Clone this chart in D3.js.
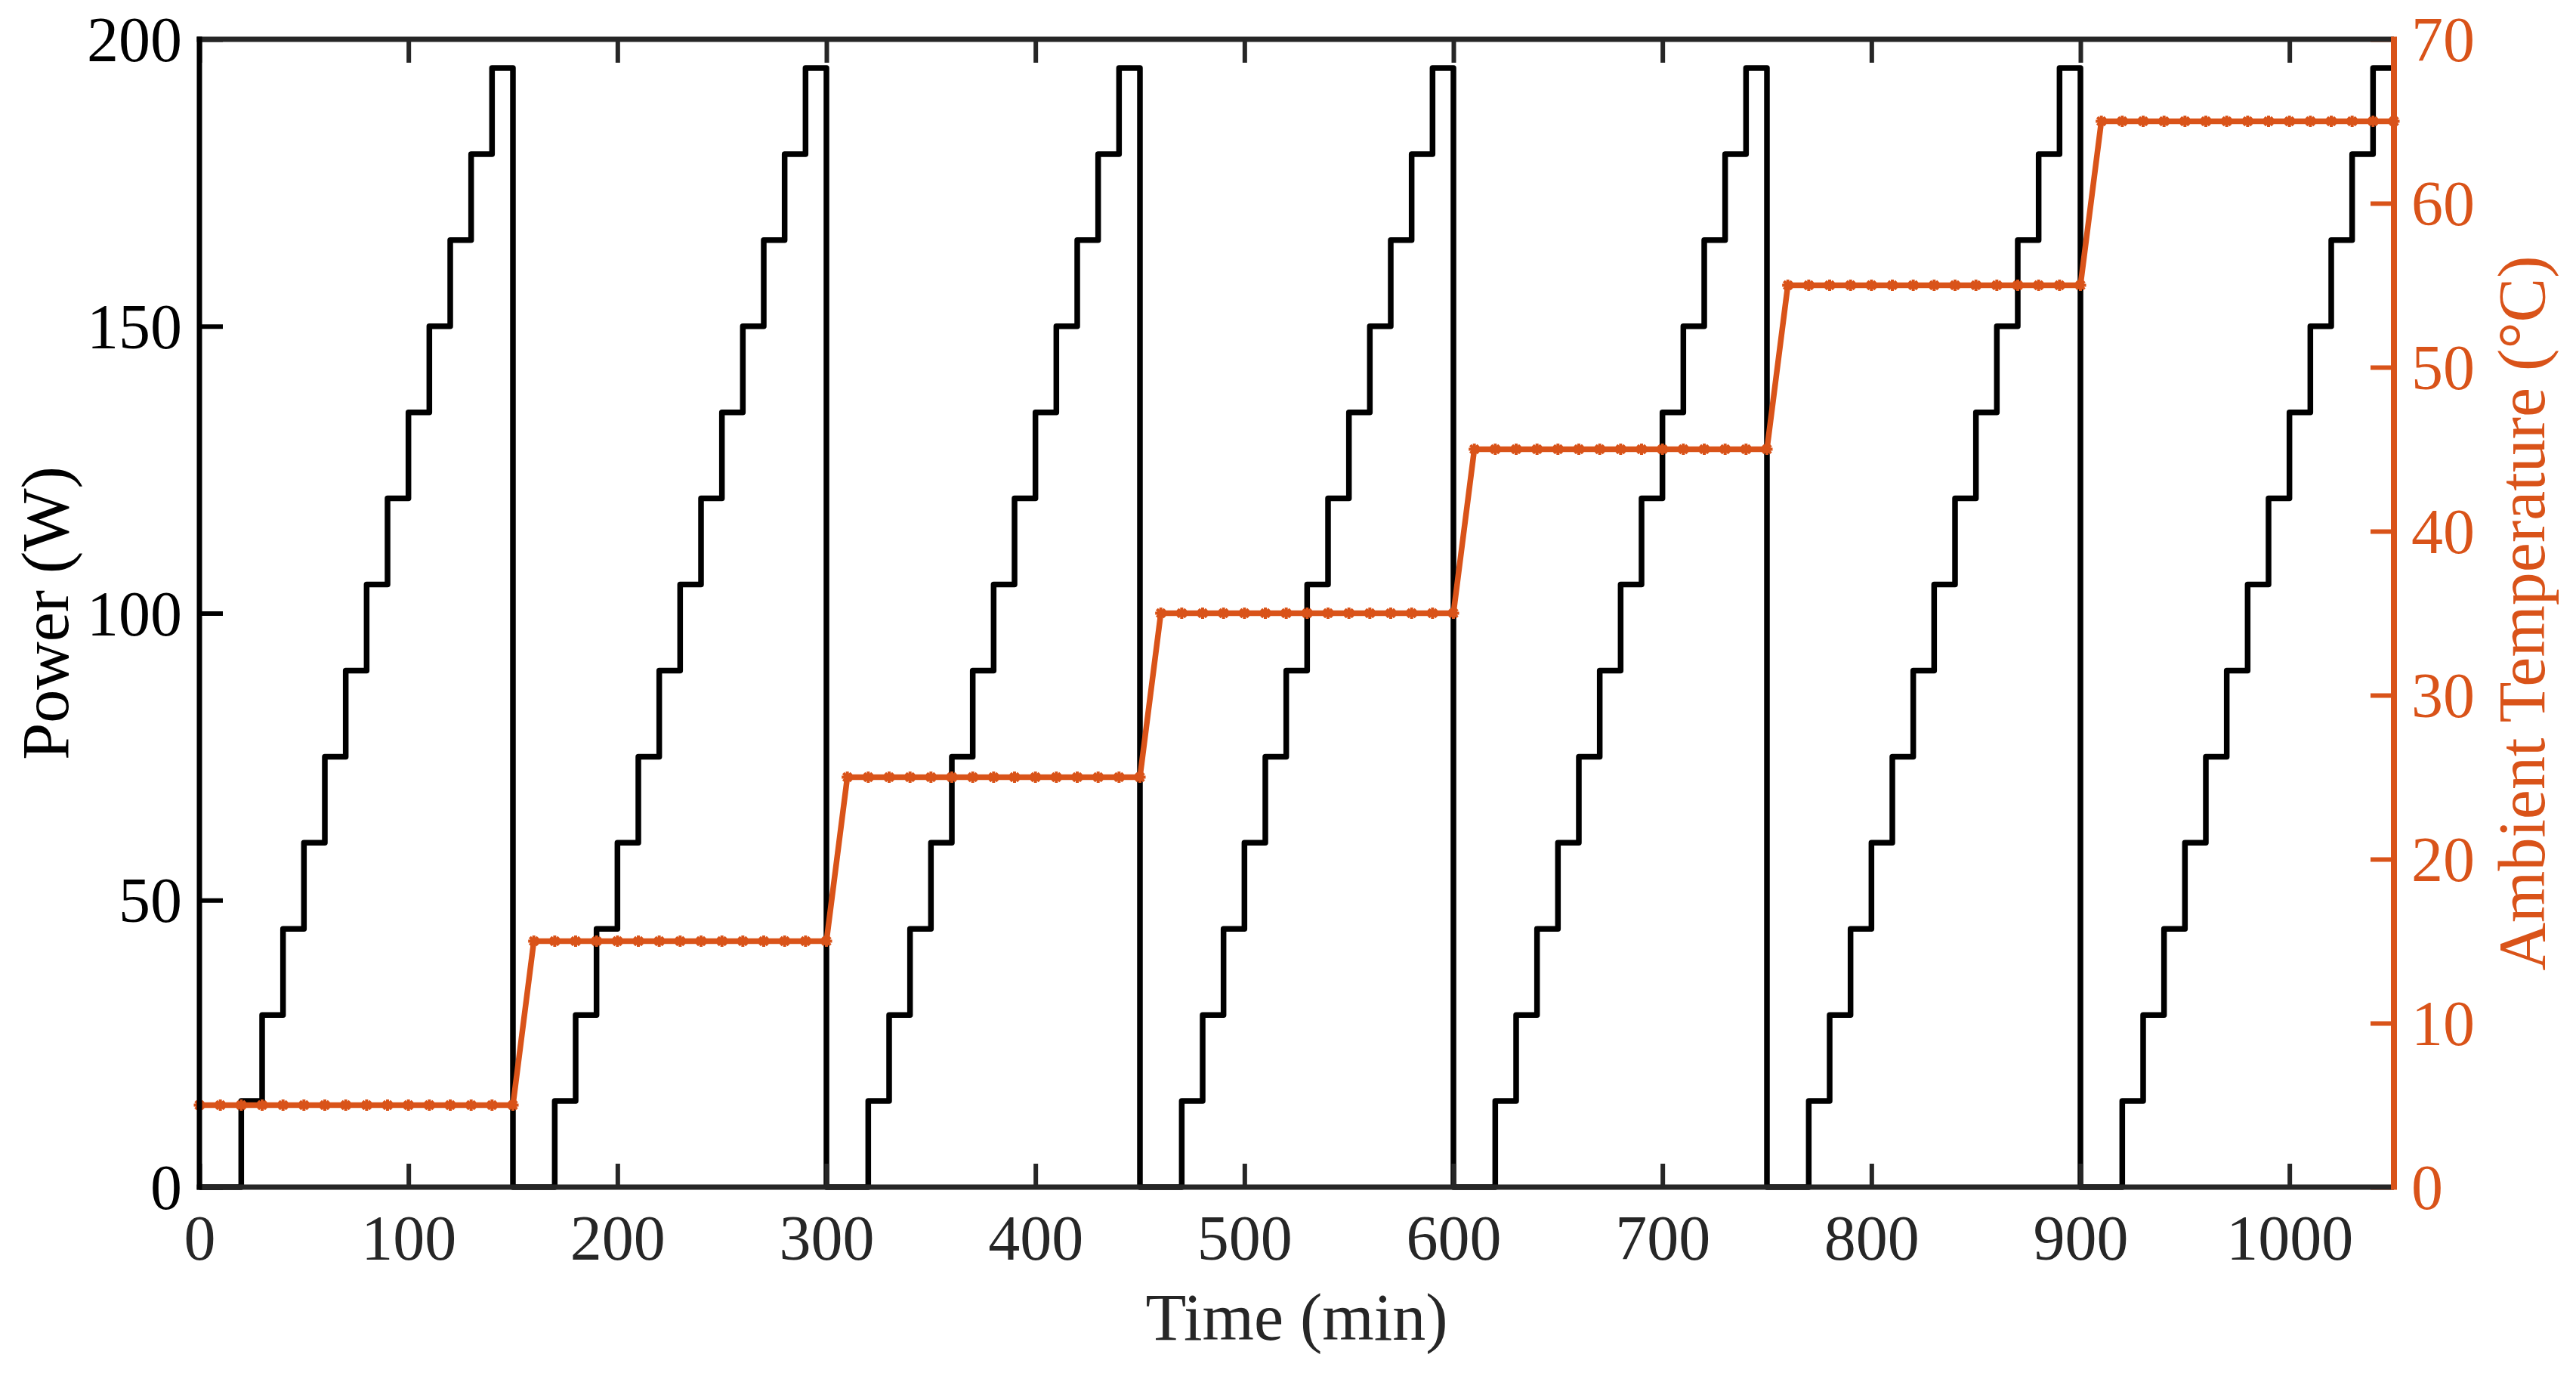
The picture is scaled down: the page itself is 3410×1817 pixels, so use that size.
<!DOCTYPE html>
<html>
<head>
<meta charset="utf-8">
<script src="https://cdn.jsdelivr.net/npm/d3@7"></script>
<style>
  html, body { margin: 0; padding: 0; background: #ffffff; }
  svg { display: block; }
</style>
</head>
<body>
<div id="chart"></div>
<script>
// ---------------- data ----------------
const xTicks = [0, 100, 200, 300, 400, 500, 600, 700, 800, 900, 1000];
const powerTicks = [0, 50, 100, 150, 200];
const tempTicks = [0, 10, 20, 30, 40, 50, 60, 70];

// Power step profile (value holds until the next time point)
const powerTime = [
  0, 20, 30, 40, 50, 60, 70, 80, 90, 100, 110, 120, 130, 140,
  150, 170, 180, 190, 200, 210, 220, 230, 240, 250, 260, 270, 280, 290,
  300, 320, 330, 340, 350, 360, 370, 380, 390, 400, 410, 420, 430, 440,
  450, 470, 480, 490, 500, 510, 520, 530, 540, 550, 560, 570, 580, 590,
  600, 620, 630, 640, 650, 660, 670, 680, 690, 700, 710, 720, 730, 740,
  750, 770, 780, 790, 800, 810, 820, 830, 840, 850, 860, 870, 880, 890,
  900, 920, 930, 940, 950, 960, 970, 980, 990, 1000, 1010, 1020, 1030, 1040,
  1050
];
const powerValue = [
  0, 15, 30, 45, 60, 75, 90, 105, 120, 135, 150, 165, 180, 195,
  0, 15, 30, 45, 60, 75, 90, 105, 120, 135, 150, 165, 180, 195,
  0, 15, 30, 45, 60, 75, 90, 105, 120, 135, 150, 165, 180, 195,
  0, 15, 30, 45, 60, 75, 90, 105, 120, 135, 150, 165, 180, 195,
  0, 15, 30, 45, 60, 75, 90, 105, 120, 135, 150, 165, 180, 195,
  0, 15, 30, 45, 60, 75, 90, 105, 120, 135, 150, 165, 180, 195,
  0, 15, 30, 45, 60, 75, 90, 105, 120, 135, 150, 165, 180, 195,
  195
];

// Ambient temperature samples (every 10 min)
const tempTime = [
  0, 10, 20, 30, 40, 50, 60, 70, 80, 90, 100, 110, 120, 130, 140, 150,
  160, 170, 180, 190, 200, 210, 220, 230, 240, 250, 260, 270, 280, 290, 300,
  310, 320, 330, 340, 350, 360, 370, 380, 390, 400, 410, 420, 430, 440, 450,
  460, 470, 480, 490, 500, 510, 520, 530, 540, 550, 560, 570, 580, 590, 600,
  610, 620, 630, 640, 650, 660, 670, 680, 690, 700, 710, 720, 730, 740, 750,
  760, 770, 780, 790, 800, 810, 820, 830, 840, 850, 860, 870, 880, 890, 900,
  910, 920, 930, 940, 950, 960, 970, 980, 990, 1000, 1010, 1020, 1030, 1040, 1050
];
const tempValue = [
  5, 5, 5, 5, 5, 5, 5, 5, 5, 5, 5, 5, 5, 5, 5, 5,
  15, 15, 15, 15, 15, 15, 15, 15, 15, 15, 15, 15, 15, 15, 15,
  25, 25, 25, 25, 25, 25, 25, 25, 25, 25, 25, 25, 25, 25, 25,
  35, 35, 35, 35, 35, 35, 35, 35, 35, 35, 35, 35, 35, 35, 35,
  45, 45, 45, 45, 45, 45, 45, 45, 45, 45, 45, 45, 45, 45, 45,
  55, 55, 55, 55, 55, 55, 55, 55, 55, 55, 55, 55, 55, 55, 55,
  65, 65, 65, 65, 65, 65, 65, 65, 65, 65, 65, 65, 65, 65, 65
];

// ---------------- layout ----------------
const W = 3410, H = 1817;
const L = 264, R = 3169, T = 52, B = 1571;
const ORANGE = "#D95319";
const AXIS = "#262626";
const FONT = "'Liberation Serif', 'Times New Roman', serif";

const svg = d3.select("#chart").append("svg")
  .attr("width", W).attr("height", H)
  .style("font-family", FONT);

const x = d3.scaleLinear().domain([0, 1050]).range([L, R]);
const yP = d3.scaleLinear().domain([0, 200]).range([B, T]);
const yT = d3.scaleLinear().domain([0, 70]).range([B, T]);

const powerData = powerTime.map((t, i) => ({ t, v: powerValue[i] }));
const tempData = tempTime.map((t, i) => ({ t, v: tempValue[i] }));

// ---------------- data marks ----------------
svg.append("defs").append("clipPath").attr("id", "clip")
  .append("rect").attr("x", L - 12).attr("y", T - 12)
  .attr("width", R - L + 24).attr("height", B - T + 24);

const plot = svg.append("g").attr("clip-path", "url(#clip)");

const powerLine = d3.line()
  .x(d => x(d.t)).y(d => yP(d.v))
  .curve(d3.curveStepAfter);

plot.append("path")
  .datum(powerData)
  .attr("d", powerLine)
  .attr("fill", "none")
  .attr("stroke", "#000")
  .attr("stroke-width", 7.5)
  .attr("stroke-linejoin", "round");

const tempLine = d3.line().x(d => x(d.t)).y(d => yT(d.v));
plot.append("path")
  .datum(tempData)
  .attr("d", tempLine)
  .attr("fill", "none")
  .attr("stroke", ORANGE)
  .attr("stroke-width", 7.5);

// asterisk markers
const mr = 7.5, md = mr * 0.7071;
const starPath = `M${-mr},0L${mr},0M0,${-mr}L0,${mr}M${-md},${-md}L${md},${md}M${-md},${md}L${md},${-md}`;
plot.append("g").selectAll("path")
  .data(tempData)
  .join("path")
  .attr("transform", d => `translate(${x(d.t)},${yT(d.v)})`)
  .attr("d", starPath)
  .attr("fill", "none")
  .attr("stroke", ORANGE)
  .attr("stroke-width", 4);

// ---------------- axes ----------------
const TICK = 31;
// bottom
const gx = svg.append("g").attr("transform", `translate(0,${B})`)
  .call(d3.axisBottom(x).tickValues(xTicks).tickSizeInner(-TICK).tickSizeOuter(0).tickFormat(d3.format("d")));
gx.select(".domain").remove();
gx.selectAll(".tick line").attr("stroke", AXIS).attr("stroke-width", 6);
gx.selectAll(".tick text").attr("y", 96).attr("dy", 0)
  .attr("fill", AXIS).style("font-size", "84px").style("font-family", FONT);

// top ticks
const gxt = svg.append("g").attr("transform", `translate(0,${T})`)
  .call(d3.axisTop(x).tickValues(xTicks).tickSizeInner(-TICK).tickSizeOuter(0).tickFormat(""));
gxt.select(".domain").remove();
gxt.selectAll(".tick line").attr("stroke", AXIS).attr("stroke-width", 6);

// left
const gy = svg.append("g").attr("transform", `translate(${L},0)`)
  .call(d3.axisLeft(yP).tickValues(powerTicks).tickSizeInner(-TICK).tickSizeOuter(0).tickFormat(d3.format("d")));
gy.select(".domain").remove();
gy.selectAll(".tick line").attr("stroke", "#000").attr("stroke-width", 6);
gy.selectAll(".tick text").attr("x", -23).attr("dy", "0.34em")
  .attr("fill", "#000").style("font-size", "84px").style("font-family", FONT);

// right
const gyr = svg.append("g").attr("transform", `translate(${R},0)`)
  .call(d3.axisRight(yT).tickValues(tempTicks).tickSizeInner(-TICK).tickSizeOuter(0).tickFormat(d3.format("d")));
gyr.select(".domain").remove();
gyr.selectAll(".tick line").attr("stroke", ORANGE).attr("stroke-width", 6);
gyr.selectAll(".tick text").attr("x", 23).attr("dy", "0.34em")
  .attr("fill", ORANGE).style("font-size", "84px").style("font-family", FONT);

// box lines
const AW = 7;
svg.append("line").attr("x1", L - AW / 2).attr("x2", R).attr("y1", T).attr("y2", T)
  .attr("stroke", AXIS).attr("stroke-width", AW);
svg.append("line").attr("x1", L - AW / 2).attr("x2", R).attr("y1", B).attr("y2", B)
  .attr("stroke", AXIS).attr("stroke-width", AW);
svg.append("line").attr("x1", L).attr("x2", L).attr("y1", T - AW / 2).attr("y2", B + AW / 2)
  .attr("stroke", "#000").attr("stroke-width", AW);
svg.append("line").attr("x1", R).attr("x2", R).attr("y1", T - AW / 2).attr("y2", B + AW / 2)
  .attr("stroke", ORANGE).attr("stroke-width", AW + 1);

// ---------------- titles ----------------
svg.append("text")
  .attr("x", (L + R) / 2).attr("y", 1773)
  .attr("text-anchor", "middle")
  .attr("fill", AXIS)
  .style("font-size", "88px")
  .text("Time (min)");

svg.append("text")
  .attr("transform", `translate(90,${(T + B) / 2}) rotate(-90)`)
  .attr("text-anchor", "middle")
  .attr("fill", "#000")
  .style("font-size", "88px")
  .text("Power (W)");

svg.append("text")
  .attr("transform", `translate(3368,${(T + B) / 2}) rotate(-90)`)
  .attr("text-anchor", "middle")
  .attr("fill", ORANGE)
  .style("font-size", "88px")
  .text("Ambient Temperature (°C)");
</script>
</body>
</html>
